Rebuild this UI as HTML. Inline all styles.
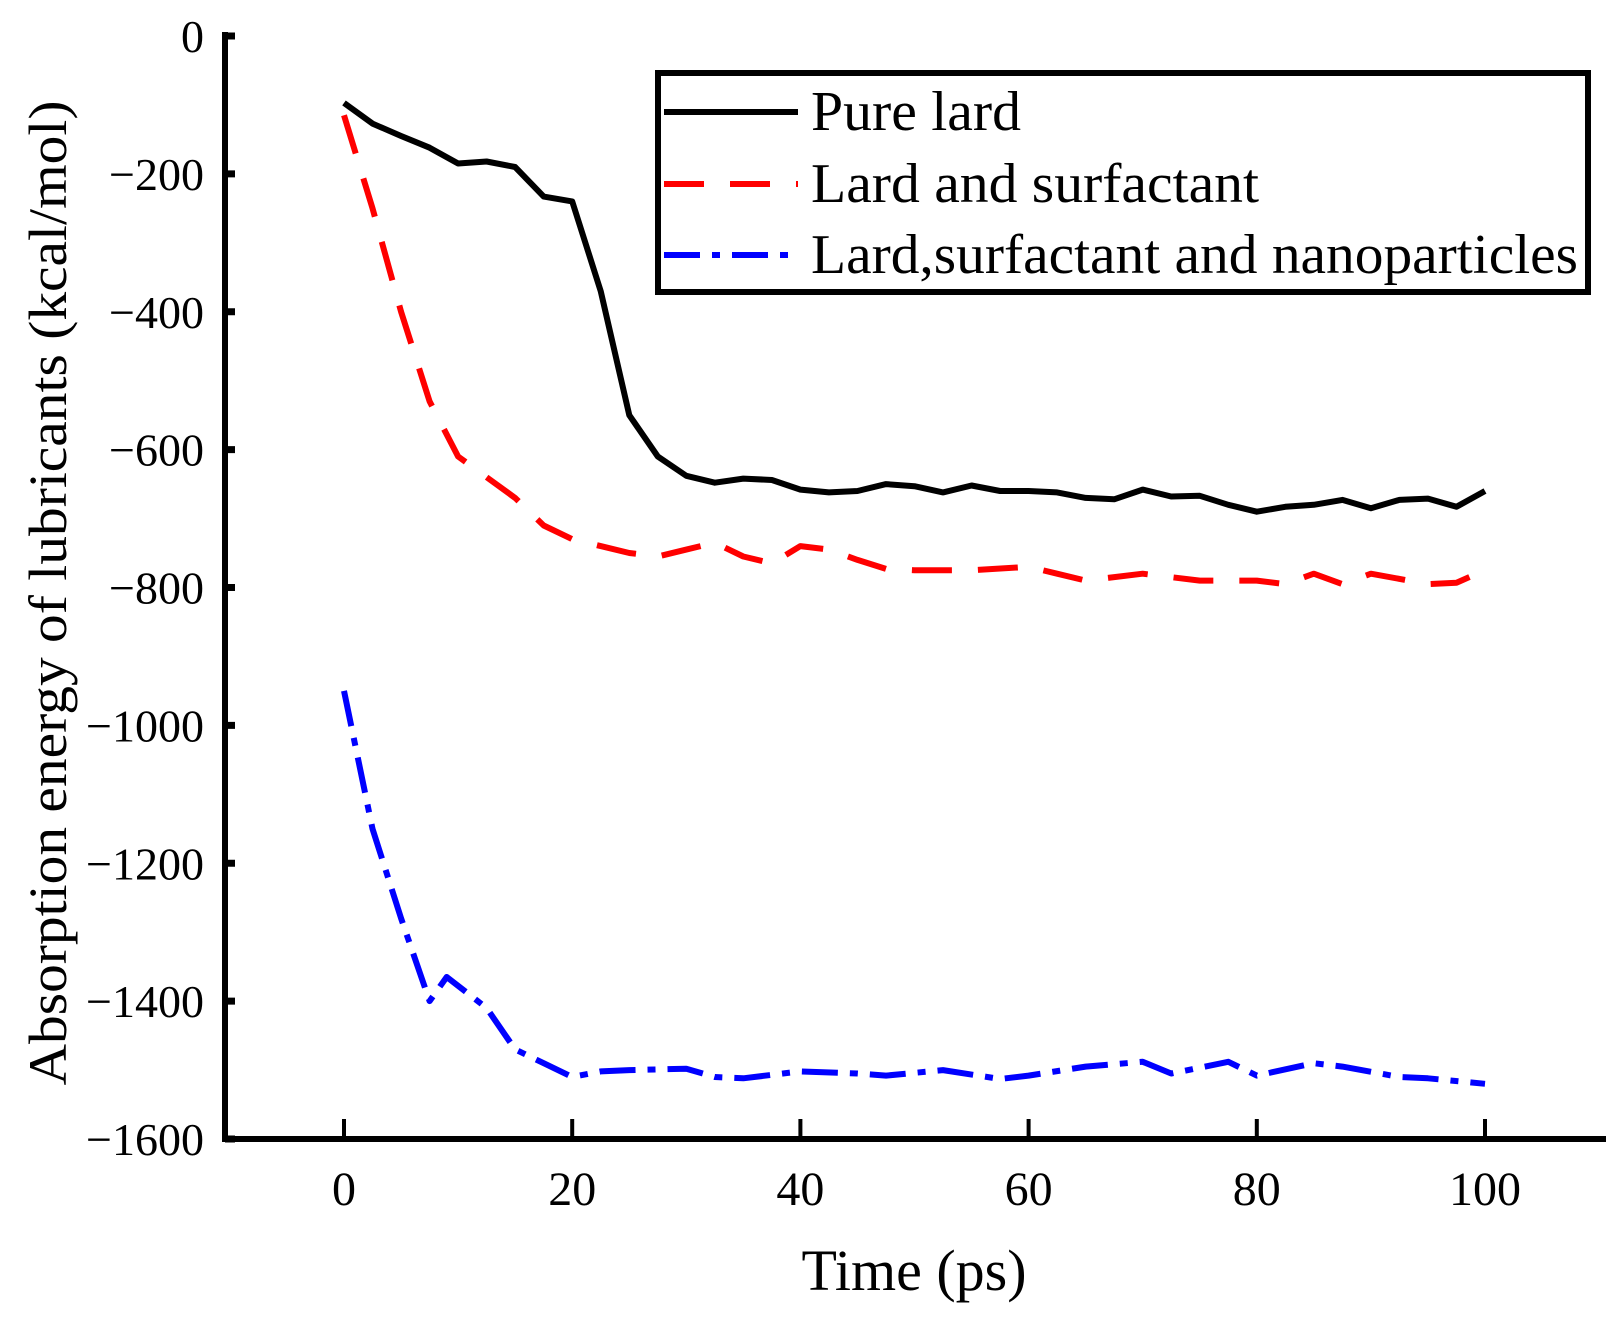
<!DOCTYPE html>
<html><head><meta charset="utf-8"><style>
html,body{margin:0;padding:0;background:#fff}
svg{display:block}
text{font-family:"Liberation Serif",serif;fill:#000}
</style></head><body>
<svg id="chart" width="1623" height="1317" viewBox="0 0 1623 1317" xmlns="http://www.w3.org/2000/svg">
<g id="axes"></g>
<g id="series"></g>
<g id="legend">
<rect x="658" y="73" width="930" height="219" fill="#fff" stroke="#000" stroke-width="6"/>
<line x1="664" y1="112" x2="798" y2="112" stroke="#000" stroke-width="6"/>
<text x="811" y="130" font-size="56" textLength="210" lengthAdjust="spacingAndGlyphs">Pure lard</text>
<line x1="664" y1="184" x2="798" y2="184" stroke="#f00" stroke-width="6" stroke-dasharray="40,26"/>
<text x="811" y="202" font-size="56" textLength="448" lengthAdjust="spacingAndGlyphs">Lard and surfactant</text>
<line x1="664" y1="255" x2="798" y2="255" stroke="#00f" stroke-width="6" stroke-dasharray="36,12,8,12"/>
<text x="811" y="273" font-size="56" textLength="767" lengthAdjust="spacingAndGlyphs">Lard,surfactant and nanoparticles</text>
</g>
</svg>
<script>
const xTicks = [0, 20, 40, 60, 80, 100];
const yTicks = [0, -200, -400, -600, -800, -1000, -1200, -1400, -1600];
const pureX = [0,2.5,5,7.5,10,12.5,15,17.5,20,22.5,25,27.5,30,32.5,35,37.5,40,42.5,45,47.5,50,52.5,55,57.5,60,62.5,65,67.5,70,72.5,75,77.5,80,82.5,85,87.5,90,92.5,95,97.5,100];
const pureY = [-97,-127,-145,-162,-185,-182,-190,-233,-240,-370,-550,-610,-638,-648,-642,-644,-658,-662,-660,-650,-653,-662,-652,-660,-660,-662,-670,-672,-658,-668,-667,-680,-690,-683,-680,-673,-685,-673,-671,-683,-660];
const surfX = [0,2.5,5,7.5,10,12.5,15,17.5,20,22.5,25,27.5,30,32.5,35,37.5,40,42.5,45,47.5,50,55,60,62.5,65,70,75,80,82.5,85,87.5,90,95,97.5,100];
const surfY = [-115,-250,-400,-530,-610,-640,-670,-710,-730,-740,-750,-755,-745,-735,-755,-765,-740,-745,-760,-773,-775,-775,-770,-780,-790,-780,-790,-790,-795,-780,-795,-780,-795,-793,-775];
const nanoX = [0,2.5,5,7.5,9,12.5,15,17.5,20,22.5,25,30,32.5,35,40,45,47.5,52.5,57.5,60,65,70,72.5,77.5,80,85,87.5,92.5,95,100];
const nanoY = [-950,-1150,-1280,-1400,-1365,-1410,-1470,-1490,-1510,-1502,-1500,-1498,-1510,-1512,-1502,-1505,-1508,-1500,-1513,-1508,-1495,-1488,-1505,-1488,-1508,-1490,-1495,-1510,-1512,-1520];

const NS = "http://www.w3.org/2000/svg";
const X0 = 344, X1 = 1485, Y0 = 36, Y1 = 1139;
function sx(v){ return X0 + (v - 0) / 100 * (X1 - X0); }
function sy(v){ return Y0 + (0 - v) / 1600 * (Y1 - Y0); }
function mk(tag, attrs, parent){ const e = document.createElementNS(NS, tag); for (const k in attrs) e.setAttribute(k, attrs[k]); parent.appendChild(e); return e; }

const axes = document.getElementById('axes');
const yAxis = mk('line', {x1:225, y1:sy(0)-4, x2:225, y2:Y1+3, stroke:'#000', 'stroke-width':6}, axes);


const xAxis = mk('line', {x1:222, y1:Y1, x2:1606, y2:Y1, stroke:'#000', 'stroke-width':6}, axes);



xTicks.forEach(t => {
  const tk = mk('line', {x1:sx(t), y1:Y1, x2:sx(t), y2:Y1-20, stroke:'#000', 'stroke-width':4}, axes);
  
  
  const lb = mk('text', {x:sx(t), y:Y1+66, 'font-size':48, 'text-anchor':'middle'}, axes);
  
  
  lb.textContent = String(t);
});
yTicks.forEach(t => {
  const tk = mk('line', {x1:225, y1:sy(t), x2:235, y2:sy(t), stroke:'#000', 'stroke-width':7}, axes);
  
  
  const lb = mk('text', {x:204, y:sy(t)+16, 'font-size':46, 'text-anchor':'end'}, axes);
  
  
  lb.textContent = t < 0 ? '\u2212' + Math.abs(t) : String(t);
});
const xt = mk('text', {x:914, y:1290, 'font-size':58, 'text-anchor':'middle'}, axes);


xt.textContent = 'Time (ps)';
const yt = mk('text', {x:0, y:0, 'font-size':54, 'text-anchor':'middle', transform:'translate(66,593) rotate(-90)', textLength:985, lengthAdjust:'spacingAndGlyphs'}, axes);


yt.textContent = 'Absorption energy of lubricants (kcal/mol)';

const series = document.getElementById('series');
function drawLine(xs, ys, color, dash, name){
  const d = xs.map((x,i) => (i ? 'L' : 'M') + sx(x).toFixed(1) + ',' + sy(ys[i]).toFixed(1)).join(' ');
  const p = mk('path', {d:d, fill:'none', stroke:color, 'stroke-width':6, 'stroke-linejoin':'round'}, series);
  if (dash) p.setAttribute('stroke-dasharray', dash);
  
  
}
drawLine(pureX, pureY, '#000', null, 'series-pure-lard');
drawLine(surfX, surfY, '#f00', '40,26', 'series-lard-surfactant');
drawLine(nanoX, nanoY, '#00f', '36,12,8,12', 'series-lard-surfactant-nano');
</script>
</body></html>
